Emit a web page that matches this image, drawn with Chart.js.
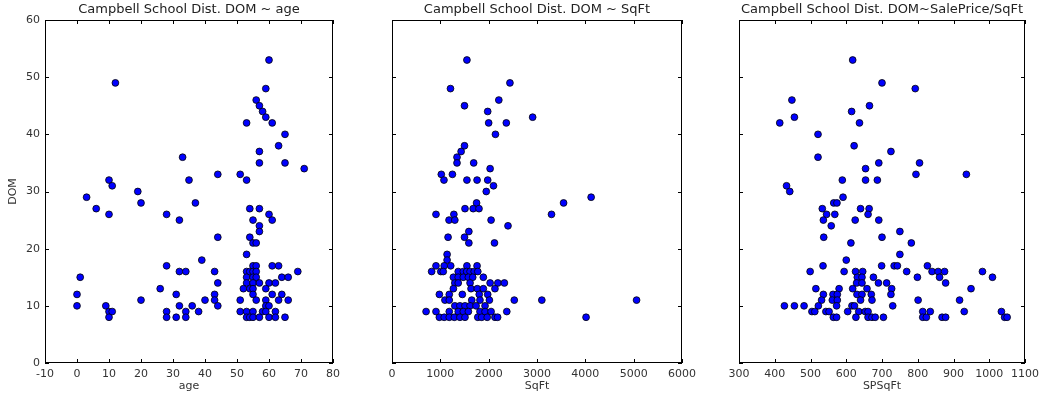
<!DOCTYPE html>
<html>
<head>
<meta charset="utf-8">
<script src="https://cdn.jsdelivr.net/npm/chart.js@4"></script>
<style>
body{margin:0;background:#fff;}
#lienzo{position:relative;width:1044px;height:397px;overflow:hidden;}
canvas{position:absolute;top:0;}
</style>
</head>
<body>
<div id="lienzo">
<canvas id="graficoEdad" width="345" height="397" style="left:0px"></canvas>
<canvas id="graficoSqft" width="340" height="397" style="left:380px"></canvas>
<canvas id="graficoPrecio" width="324" height="397" style="left:720px"></canvas>
</div>
<script>
/* DATOS */

const titulos = ["Campbell School Dist. DOM ~ age", "Campbell School Dist. DOM ~ SqFt", "Campbell School Dist. DOM~SalePrice/SqFt"];
const etiquetasX = ["age", "SqFt", "SPSqFt"];
const limitesY = [0, 60, 10];
const limitesEdad = [-10, 80, 10];
const limitesSqft = [0, 6000, 1000];
const limitesPrecio = [300, 1100, 100];

const edad = [12,60,59,56,57,58,59,53,61,65,63,57,33,57,65,71,10,11,35,44,51,53,19,3,20,37,6,10,28,32,54,57,60,61,55,57,57,44,54,55,56,53,39,28,32,34,43,1,0,0,26,31,44,43,61,63,64,66,69,60,62,59,61,64,55,56,53,54,55,56,53,55,56,53,55,57,52,54,55,43,40,51,55,56,59,63,66,44,59,60,38,51,53,55,58,59,62,53,54,55,57,60,62,65,9,10,11,10,20,32,28,28,31,34,34,36];
const domEdad = [49,53,48,46,45,44,43,42,42,40,38,37,36,35,35,34,32,31,32,33,33,32,30,29,28,28,27,26,26,25,27,27,26,25,25,24,23,22,22,21,21,19,18,17,16,16,16,15,12,10,13,12,14,12,17,17,15,15,16,14,14,13,12,12,17,17,16,16,16,16,15,15,15,14,14,14,13,13,13,11,11,11,12,11,11,11,11,10,10,10,9,9,9,9,9,9,9,8,8,8,8,8,8,8,10,9,9,8,11,10,9,8,8,9,8,10];

const sqft = [1550,2440,1210,2210,1500,1980,2910,2000,2365,2140,1500,1430,1345,1345,1690,2030,1020,1250,1075,1550,1760,1980,2100,1950,4120,3550,1750,1510,1680,1800,910,1280,3300,1180,1300,2050,2400,1590,1160,1500,1590,2120,1140,1140,910,1080,1215,1550,1760,820,1010,1060,1370,1475,1545,1615,1700,1775,1270,1370,1475,1580,1670,1890,1300,1370,1615,2030,2190,2325,1270,1635,1765,1890,2130,980,1185,1455,1805,1980,1095,1185,1650,1820,2015,2530,3100,5060,1300,1405,1510,1615,1740,1925,705,910,1185,1370,1475,1580,1820,1925,2050,2375,980,1080,1185,1290,1405,1510,1775,1855,1970,2130,2185,4015];
const domSqft = [53,49,48,46,45,44,43,42,42,40,38,37,36,35,35,34,33,33,32,32,32,32,31,30,29,28,28,27,27,27,26,26,26,25,25,25,24,23,22,22,21,21,19,18,17,17,17,17,17,16,16,16,16,16,16,16,16,16,15,15,15,15,15,15,14,14,14,14,14,14,13,13,13,13,13,12,12,12,12,12,11,11,11,11,11,11,11,11,10,10,10,10,10,10,9,9,9,9,9,9,9,9,9,9,8,8,8,8,8,8,8,8,8,8,8,8];

const precioSqft = [618,700,793,448,665,615,455,414,637,521,622,725,521,691,805,654,795,936,589,654,687,433,442,591,565,574,533,640,664,545,568,661,536,625,691,558,750,537,700,613,782,750,600,535,699,734,743,827,499,594,626,646,769,840,857,875,981,631,644,676,799,861,1009,629,644,690,713,878,515,580,618,658,727,949,536,563,575,630,644,670,725,531,561,575,640,672,801,917,427,455,482,522,573,616,623,730,504,512,543,552,604,635,653,661,814,835,930,1034,564,573,627,661,672,681,704,814,824,868,878,1043,1050];
const domPrecio = [53,49,48,46,45,44,43,42,42,40,38,37,36,35,35,34,33,33,32,32,32,31,30,29,28,28,27,27,27,26,26,26,25,25,25,24,23,22,22,21,21,19,18,17,17,17,17,17,16,16,16,16,16,16,16,16,16,15,15,15,15,15,15,14,14,14,14,14,13,13,13,13,13,13,12,12,12,12,12,12,12,11,11,11,11,11,11,11,10,10,10,10,10,10,10,10,9,9,9,9,9,9,9,9,9,9,9,9,8,8,8,8,8,8,8,8,8,8,8,8,8];

/* MARCO Y MARCAS HACIA DENTRO */

const marcoPlugin = {
id:"marco",
afterDraw(chart){
const ctx = chart.ctx;
const a = chart.chartArea;
const x = chart.scales.x;
const y = chart.scales.y;
ctx.save();
ctx.strokeStyle = "#000";
ctx.lineWidth = 1;
ctx.beginPath();
x.ticks.forEach(function(t){
const px = Math.round(x.getPixelForValue(t.value)) + 0.5;
ctx.moveTo(px, a.bottom); ctx.lineTo(px, a.bottom - 4);
ctx.moveTo(px, a.top); ctx.lineTo(px, a.top + 4);
});
y.ticks.forEach(function(t){
const py = Math.round(y.getPixelForValue(t.value)) + 0.5;
ctx.moveTo(a.left, py); ctx.lineTo(a.left + 4, py);
ctx.moveTo(a.right, py); ctx.lineTo(a.right - 4, py);
});
ctx.stroke();
ctx.strokeRect(Math.round(a.left) + 0.5, Math.round(a.top) + 0.5, Math.round(a.width) - 1, Math.round(a.height) - 1);
ctx.restore();
}
};

/* GRAFICOS */

function crearPanel(id, n, xs, ys, limX, anchoY, margenDer, conEtiquetasY){

const puntos = xs.map(function(v, i){ return {x:v, y:ys[i]}; });

new Chart(document.getElementById(id),{

type:"scatter",

data:{
datasets:[{
data:puntos,
backgroundColor:"#0000ff",
borderColor:"#000",
borderWidth:0.8,
pointRadius:3.4,
pointHoverRadius:3.4
}]
},

plugins:[marcoPlugin],

options:{
responsive:false,
animation:false,
layout:{padding:{top:0, right:margenDer, bottom:0, left:0}},
plugins:{
legend:{display:false},
tooltip:{enabled:false},
title:{
display:true,
fullSize:false,
text:titulos[n],
color:"#222",
font:{family:"DejaVu Sans", size:13, weight:"normal", lineHeight:1.2},
padding:{top:2, bottom:2.4}
}
},
scales:{
x:{
type:"linear",
min:limX[0], max:limX[1],
ticks:{stepSize:limX[2], color:"#333", font:{family:"DejaVu Sans", size:11}, padding:5, maxRotation:0,
callback:function(v){ return String(v); }},
grid:{display:false, drawTicks:false},
border:{display:false},
title:{display:true, text:etiquetasX[n], color:"#333", font:{family:"DejaVu Sans", size:11}, padding:{top:0, bottom:4}},
afterFit:function(s){ s.height = 34; }
},
y:{
type:"linear",
min:limitesY[0], max:limitesY[1],
ticks:{stepSize:limitesY[2], display:conEtiquetasY, color:"#333", font:{family:"DejaVu Sans", size:11}, padding:5},
grid:{display:false, drawTicks:false},
border:{display:false},
title:{display:conEtiquetasY, text:"DOM", color:"#333", font:{family:"DejaVu Sans", size:11}, padding:{top:7, bottom:0}},
afterFit:function(s){ s.width = anchoY; }
}
}
}

});

}

crearPanel("graficoEdad", 0, edad, domEdad, limitesEdad, 45, 10, true);
crearPanel("graficoSqft", 1, sqft, domSqft, limitesSqft, 12, 38, false);
crearPanel("graficoPrecio", 2, precioSqft, domPrecio, limitesPrecio, 19, 16, false);
</script>
</body>
</html>
